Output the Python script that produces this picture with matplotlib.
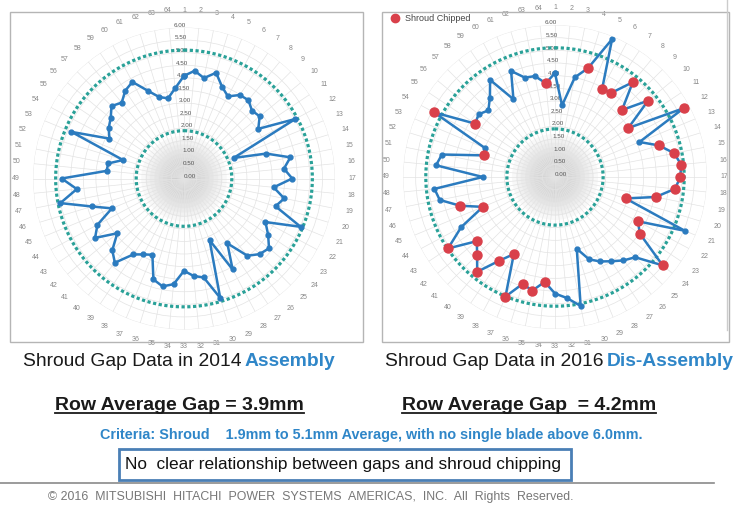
import matplotlib.pyplot as plt
import numpy as np
from matplotlib.patches import Rectangle
from matplotlib.lines import Line2D

plt.rcParams['font.family'] = ['Liberation Sans', 'DejaVu Sans']

# Data: shroud gap (mm) per blade
blades = np.arange(1, 65)
gap_2014 = [4.08, 4.30, 4.07, 4.39, 3.95, 3.70, 3.99, 4.03, 3.82, 3.89,
            3.55, 5.02, 2.13, 3.41, 4.31, 3.99, 4.30, 3.58, 4.06, 3.80,
            5.02, 3.67, 4.02, 4.37, 4.25, 3.97, 3.10, 4.10, 2.65, 4.96,
            4.01, 3.89, 3.67, 4.22, 4.37, 4.19, 3.28, 3.42, 3.63, 4.33,
            4.03, 3.43, 4.25, 3.90, 3.10, 3.83, 5.01, 4.28, 4.86, 3.09,
            3.07, 2.53, 4.84, 3.36, 3.60, 3.77, 4.07, 3.90, 4.20, 4.35,
            3.78, 3.38, 3.25, 3.60]
gap_2016 = [4.10, 2.84, 4.01, 4.49, 5.89, 3.95, 3.99, 4.84, 3.74, 4.75,
            3.48, 5.76, 3.61, 4.29, 4.80, 5.00, 4.95, 4.76, 4.05, 2.91,
            5.55, 3.71, 4.03, 5.50, 4.48, 4.26, 4.00, 3.78, 3.52, 2.96,
            5.19, 4.80, 4.60, 4.16, 4.57, 4.41, 5.11, 3.45, 3.98, 4.84,
            4.35, 3.99, 5.08, 4.20, 3.08, 3.91, 4.64, 4.78, 2.85, 4.72,
            4.55, 2.94, 3.00, 5.41, 3.79, 3.90, 3.72, 4.05, 4.61, 3.48,
            4.53, 4.10, 4.06, 3.72]
chipped_2016 = [4, 6, 7, 8, 9, 10, 11, 12, 14, 15, 16, 17, 18, 19, 20, 22,
                23, 24, 34, 35, 36, 37, 38, 39, 40, 41, 42, 43, 45, 46, 52,
                54, 55, 64]
criteria_low = 1.9
criteria_high = 5.1
r_ticks = np.arange(0, 6.01, 0.5)

W, H = 734, 508
BLUE = '#2b7bbf'
TEAL = '#2aa198'
RED = '#d9404a'
TXT_BLUE = '#2f86c8'

fig = plt.figure(figsize=(W / 100, H / 100), dpi=100)


def fx(px):
    return px / W


def fy(py):
    return 1 - py / H


# panel frames
for x0, x1 in [(10, 363), (382, 729)]:
    fig.patches.append(Rectangle((fx(x0), fy(342)), fx(x1 - x0), 330 / H,
                                 transform=fig.transFigure, fill=False,
                                 ec='#b5b5b5', lw=1))


def polar_panel(cx, cy, rad, values, chipped=None):
    ax = fig.add_axes([fx(cx - rad), fy(cy + rad), fx(2 * rad), 2 * rad / H],
                      projection='polar')
    theta = (blades - 1) * 2 * np.pi / 64
    ax.set_theta_zero_location('N')
    ax.set_theta_direction(-1)
    ax.set_ylim(0, 6)
    ax.set_yticks(r_ticks)
    ax.set_yticklabels([f'{v:.2f}' for v in r_ticks], fontsize=4.5, color='#555555')
    ax.set_rlabel_position(-4)
    ax.set_xticks(theta)
    ax.set_xticklabels([str(b) for b in blades], fontsize=5, color='#888888')
    ax.tick_params(axis='x', pad=2)
    ax.grid(color='#e3e3e3', lw=0.5)
    ax.spines['polar'].set_visible(False)
    ax.set_facecolor('none')

    # grey haze at the hub
    ring = np.linspace(0, 2 * np.pi, 200)
    for rr in np.linspace(0.15, 1.7, 10):
        ax.fill(ring, np.full_like(ring, rr), color='#808080', alpha=0.05, lw=0)

    for rr in (criteria_low, criteria_high):
        ax.plot(ring, np.full_like(ring, rr), color=TEAL, lw=2.3, ls=(0, (1, 0.8)))

    t = np.append(theta, theta[0])
    v = np.append(values, values[0])
    ax.plot(t, v, color=BLUE, lw=1.8, marker='o', ms=3.5, zorder=4)
    if chipped is not None:
        idx = np.array(chipped) - 1
        ax.plot(theta[idx], np.array(values)[idx], 'o', color=RED, ms=6.5, zorder=5)
    return ax


ax1 = polar_panel(184, 178.5, 151, gap_2014)
ax2 = polar_panel(555, 177, 152, gap_2016, chipped_2016)

ax2.legend(handles=[Line2D([], [], marker='o', ls='', color=RED, ms=6,
                           label='Shroud Chipped')],
           loc='upper left', bbox_to_anchor=(fx(386), fy(14)),
           bbox_transform=fig.transFigure, frameon=False, fontsize=6.5,
           handletextpad=0.1, borderaxespad=0, borderpad=0,
           labelcolor='#444444')

# texts
fig.canvas.draw()
rend = fig.canvas.get_renderer()


def two_tone(x, y, first, second, size):
    t1 = fig.text(fx(x), fy(y), first, fontsize=size, color='#1a1a1a', va='center')
    bb = t1.get_window_extent(rend)
    fig.text(bb.x1 / W + fx(3), fy(y), second, fontsize=size, color=TXT_BLUE,
             fontweight='bold', va='center')


two_tone(23, 362, 'Shroud Gap Data in 2014', 'Assembly', 13.9)
two_tone(385, 362, 'Shroud Gap Data in 2016', 'Dis-Assembly', 13.9)


def underlined(x, y, s, size):
    t = fig.text(fx(x), fy(y), s, fontsize=size, fontweight='bold',
                 color='#1a1a1a', va='center')
    bb = t.get_window_extent(rend)
    fig.add_artist(Line2D([bb.x0 / W, bb.x1 / W], [bb.y0 / H + 0.001] * 2,
                          transform=fig.transFigure, color='#1a1a1a', lw=1.3))


underlined(55, 405, 'Row Average Gap = 3.9mm', 14)
underlined(402, 405, 'Row Average Gap  = 4.2mm', 14)

fig.text(fx(100), fy(435), 'Criteria: Shroud    1.9mm to 5.1mm Average, with no single blade above 6.0mm.',
         fontsize=10.4, fontweight='bold', color=TXT_BLUE, va='center')

fig.patches.append(Rectangle((fx(119), fy(480)), fx(452), 31 / H,
                             transform=fig.transFigure, fc='white',
                             ec='#4a7fb5', lw=2))
fig.text(fx(125), fy(464), 'No  clear relationship between gaps and shroud chipping',
         fontsize=12.4, color='#111111', va='center')

fig.add_artist(Line2D([0, fx(714)], [fy(483)] * 2, transform=fig.transFigure,
                      color='#8a8a8a', lw=1.2))
fig.add_artist(Line2D([fx(727)] * 2, [fy(0), fy(330)], transform=fig.transFigure,
                      color='#cccccc', lw=1))

fig.text(fx(48), fy(497),
         '\u00a9 2016  MITSUBISHI  HITACHI  POWER  SYSTEMS  AMERICAS,  INC.  All  Rights  Reserved.',
         fontsize=8.9, color='#777777', va='center')

fig.savefig('out.png', dpi=100)
